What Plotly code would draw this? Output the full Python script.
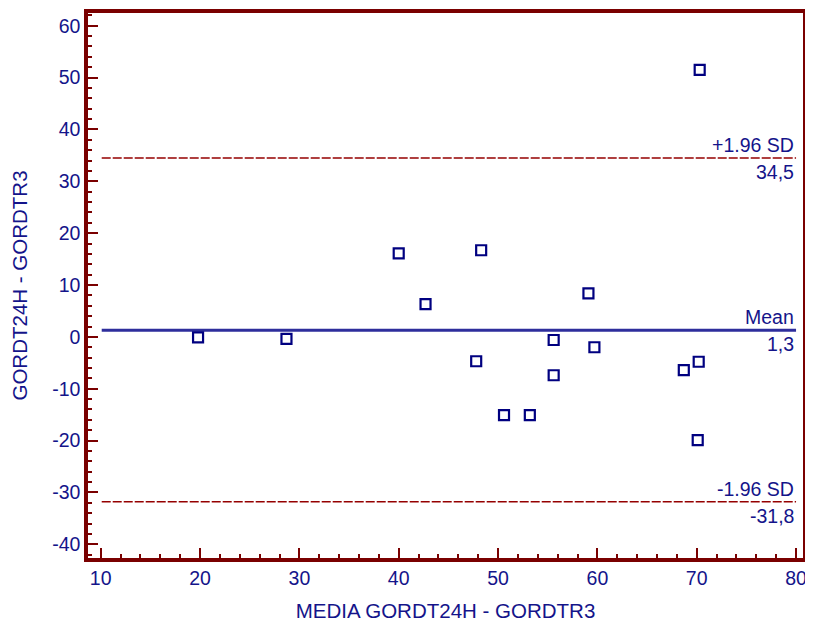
import plotly.graph_objects as go

# Data
mean_x = [19.8, 28.7, 40.0, 42.7, 48.3, 47.8, 50.6, 53.2, 55.6, 55.6, 59.1, 59.7, 68.7, 70.2, 70.1, 70.3]
diff_y = [-0.1, -0.4, 16.1, 6.3, 16.7, -4.7, -15.1, -15.1, -0.6, -7.4, 8.4, -2.0, -6.4, -4.8, -19.9, 51.5]

mean_diff = 1.3
upper_loa = 34.5
lower_loa = -31.8
line_span = [10.1, 80]

x_ticks = [10, 20, 30, 40, 50, 60, 70, 80]
y_ticks = [-40, -30, -20, -10, 0, 10, 20, 30, 40, 50, 60]
y_tick_text = ["-40", "-30", "-20", "-10", "0", "10", "20", "30", "40", "50", "60"]

NAVY = "#14148a"
MARK = "#000080"
FRAME = "#7a0000"
DASH = "#950000"
FONT = "Liberation Sans, Arial, sans-serif"

fig = go.Figure()

fig.add_trace(go.Scatter(x=line_span, y=[mean_diff, mean_diff], mode="lines",
                         line=dict(color="#2e2e9c", width=3), hoverinfo="skip", showlegend=False))
for v in (upper_loa, lower_loa):
    fig.add_trace(go.Scatter(x=line_span, y=[v, v], mode="lines",
                             line=dict(color=DASH, width=1.5, dash="9px,2px"),
                             hoverinfo="skip", showlegend=False))

fig.add_trace(go.Scatter(x=mean_x, y=diff_y, mode="markers",
                         marker=dict(symbol="square-open", size=10, color=MARK,
                                     line=dict(width=2.2, color=MARK)),
                         showlegend=False))

labels = [
    (upper_loa, "+1.96 SD", str(upper_loa).replace(".", ",")),
    (mean_diff, "Mean", str(mean_diff).replace(".", ",")),
    (lower_loa, "-1.96 SD", str(lower_loa).replace(".", ",")),
]
for v, top, bottom in labels:
    fig.add_annotation(x=line_span[1], y=v, text=top, showarrow=False,
                       xanchor="right", yanchor="bottom", yshift=0,
                       font=dict(family=FONT, size=19.5, color=NAVY))
    fig.add_annotation(x=line_span[1], y=v, text=bottom, showarrow=False,
                       xanchor="right", yanchor="top", yshift=-1,
                       font=dict(family=FONT, size=19.5, color=NAVY))

axis_common = dict(
    showgrid=False, zeroline=False, automargin=False,
    showline=True, linecolor=FRAME, linewidth=3.5, mirror=True,
    ticks="inside", ticklen=10, tickwidth=2, tickcolor=FRAME,
    tickfont=dict(family=FONT, size=19.5, color=NAVY),
    minor=dict(ticks="inside", ticklen=4, tickwidth=2, tickcolor=FRAME, dtick=2, showgrid=False),
)

# The page body adds an 8px offset, so margins compensate for it
fig.update_layout(
    width=813, height=629,
    margin=dict(l=80, r=18, t=5, b=79),
    plot_bgcolor="white", paper_bgcolor="white",
    font=dict(family=FONT, color=NAVY),
    xaxis=dict(range=[8.72, 80.7], tickvals=x_ticks,
               title=dict(text="MEDIA GORDT24H - GORDTR3", font=dict(family=FONT, size=20.5, color=NAVY), standoff=16),
               **axis_common),
    yaxis=dict(range=[-42.64, 62.45], tickvals=y_ticks, ticktext=y_tick_text,
               title=dict(text="GORDT24H - GORDTR3", font=dict(family=FONT, size=20.5, color=NAVY), standoff=21),
               **axis_common),
)

fig.write_html("out.html")
